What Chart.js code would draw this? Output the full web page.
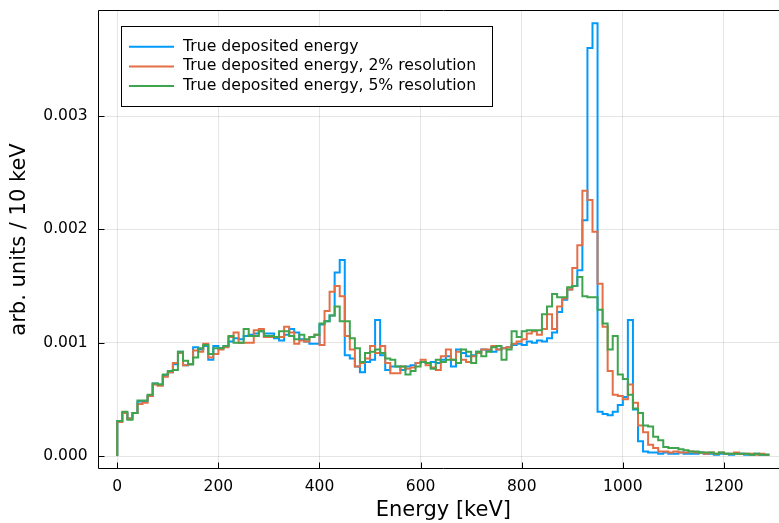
<!DOCTYPE html>
<html>
<head>
<meta charset="utf-8">
<script src="https://cdn.jsdelivr.net/npm/chart.js@4.4.0/dist/chart.umd.min.js"></script>
<style>
    html, body { margin: 0; padding: 0; overflow: hidden; background: #fff; }
    #wrap { width: 789px; height: 523px; }
</style>
</head>
<body>
<div id="wrap"><canvas id="chart" width="789" height="523"></canvas></div>
<script>
// Histogram bins: 10 keV wide, starting at 0 keV (129 bins, 0 - 1290 keV)
const binWidth = 10;

// True deposited energy
const trueEnergy = [
    0.00031, 0.00038, 0.00033, 0.00038, 0.00048, 0.00048, 0.00053, 0.00064, 0.00063, 0.00071,
    0.00074, 0.00081, 0.00092, 0.00080, 0.00081, 0.00096, 0.00094, 0.00097, 0.00085, 0.00097,
    0.00095, 0.00097, 0.00101, 0.00104, 0.00103, 0.00106, 0.00107, 0.00108, 0.00110, 0.00108,
    0.00108, 0.00104, 0.00102, 0.00107, 0.00112, 0.00109, 0.00103, 0.00101, 0.00099, 0.00099,
    0.00116, 0.00119, 0.00124, 0.00162, 0.00173, 0.00089, 0.00086, 0.00079, 0.00074, 0.00083,
    0.00085, 0.00120, 0.00089, 0.00076, 0.00079, 0.00079, 0.00076, 0.00079, 0.00080, 0.00082,
    0.00083, 0.00082, 0.00083, 0.00082, 0.00085, 0.00088, 0.00079, 0.00094, 0.00091, 0.00088,
    0.00089, 0.00092, 0.00094, 0.00093, 0.00092, 0.00094, 0.00095, 0.00096, 0.00098, 0.00099,
    0.00098, 0.00101, 0.00100, 0.00102, 0.00101, 0.00104, 0.00109, 0.00127, 0.00138, 0.00147,
    0.00150, 0.00164, 0.00208, 0.00360, 0.00382, 0.00039, 0.00037, 0.00036, 0.00039, 0.00045,
    0.00052, 0.00120, 0.00041, 0.00013, 0.00004, 0.00003, 0.00003, 0.00002, 0.00003, 0.00002,
    0.00002, 0.00003, 0.00002, 0.00002, 0.00002, 0.00003, 0.00002, 0.00002, 0.00001, 0.00002,
    0.00002, 0.00001, 0.00002, 0.00002, 0.00001, 0.00001, 0.00002, 0.00001, 0.00001
];

// Smeared with 2% resolution
const res2 = [
    0.00030, 0.00038, 0.00033, 0.00038, 0.00046, 0.00047, 0.00053, 0.00063, 0.00062, 0.00070,
    0.00074, 0.00082, 0.00091, 0.00080, 0.00081, 0.00093, 0.00092, 0.00099, 0.00087, 0.00090,
    0.00094, 0.00096, 0.00105, 0.00109, 0.00100, 0.00100, 0.00100, 0.00111, 0.00112, 0.00105,
    0.00105, 0.00105, 0.00105, 0.00114, 0.00109, 0.00099, 0.00102, 0.00101, 0.00105, 0.00107,
    0.00098, 0.00128, 0.00145, 0.00150, 0.00141, 0.00106, 0.00094, 0.00079, 0.00082, 0.00086,
    0.00097, 0.00091, 0.00097, 0.00082, 0.00073, 0.00073, 0.00079, 0.00077, 0.00078, 0.00082,
    0.00085, 0.00080, 0.00078, 0.00076, 0.00088, 0.00094, 0.00085, 0.00092, 0.00085, 0.00083,
    0.00088, 0.00091, 0.00094, 0.00094, 0.00097, 0.00094, 0.00095, 0.00096, 0.00099, 0.00101,
    0.00103, 0.00108, 0.00110, 0.00107, 0.00112, 0.00125, 0.00112, 0.00132, 0.00139, 0.00147,
    0.00166, 0.00186, 0.00234, 0.00226, 0.00198, 0.00152, 0.00114, 0.00075, 0.00054, 0.00053,
    0.00050, 0.00063, 0.00047, 0.00027, 0.00021, 0.00010, 0.00007, 0.00004, 0.00004, 0.00003,
    0.00004, 0.00003, 0.00003, 0.00004, 0.00003, 0.00003, 0.00002, 0.00003, 0.00002, 0.00003,
    0.00002, 0.00002, 0.00003, 0.00002, 0.00002, 0.00002, 0.00001, 0.00002, 0.00001
];

// Smeared with 5% resolution
const res5 = [
    0.00031, 0.00039, 0.00032, 0.00038, 0.00049, 0.00049, 0.00054, 0.00064, 0.00063, 0.00072,
    0.00075, 0.00076, 0.00092, 0.00084, 0.00081, 0.00087, 0.00095, 0.00098, 0.00090, 0.00095,
    0.00095, 0.00097, 0.00106, 0.00100, 0.00100, 0.00112, 0.00106, 0.00106, 0.00110, 0.00106,
    0.00106, 0.00105, 0.00110, 0.00110, 0.00106, 0.00103, 0.00107, 0.00103, 0.00105, 0.00107,
    0.00117, 0.00119, 0.00124, 0.00132, 0.00119, 0.00119, 0.00104, 0.00095, 0.00083, 0.00091,
    0.00092, 0.00094, 0.00091, 0.00086, 0.00085, 0.00079, 0.00079, 0.00072, 0.00075, 0.00079,
    0.00083, 0.00082, 0.00077, 0.00085, 0.00083, 0.00085, 0.00085, 0.00082, 0.00094, 0.00092,
    0.00082, 0.00092, 0.00088, 0.00092, 0.00096, 0.00097, 0.00085, 0.00094, 0.00110, 0.00105,
    0.00110, 0.00111, 0.00111, 0.00111, 0.00125, 0.00132, 0.00143, 0.00140, 0.00140, 0.00149,
    0.00150, 0.00158, 0.00141, 0.00140, 0.00140, 0.00129, 0.00117, 0.00094, 0.00106, 0.00072,
    0.00068, 0.00054, 0.00042, 0.00038, 0.00027, 0.00026, 0.00017, 0.00014, 0.00008, 0.00007,
    0.00007, 0.00006, 0.00005, 0.00004, 0.00004, 0.00003, 0.00003, 0.00003, 0.00002, 0.00003,
    0.00002, 0.00002, 0.00002, 0.00002, 0.00002, 0.00001, 0.00002, 0.00001, 0.00001
];

const seriesNames = [
    'True deposited energy',
    'True deposited energy, 2% resolution',
    'True deposited energy, 5% resolution'
];
const seriesColors = ['#009afa', '#e36f47', '#3ea44e'];

const xTicks = [0, 200, 400, 600, 800, 1000, 1200];
const yTicks = [0, 0.001, 0.002, 0.003];

const fontFamily = '"DejaVu Sans", sans-serif';

// Turn bin contents into an outline: vertical rise at 0, then one step per bin
function toSteps(values) {
    const pts = [{ x: 0, y: 0 }];
    values.forEach((v, i) => pts.push({ x: i * binWidth, y: v }));
    pts.push({ x: values.length * binWidth, y: values[values.length - 1] });
    return pts;
}

// Frame box and inward tick marks, like the GR backend
const framePlugin = {
    id: 'frame',
    afterDatasetsDraw(chart) {
        const { ctx, chartArea: a, scales } = chart;
        ctx.save();
        ctx.strokeStyle = '#000';
        ctx.lineWidth = 1;
        ctx.beginPath();
        const l = Math.round(a.left) + 0.5, t = Math.round(a.top) + 0.5;
        const r = Math.round(a.right) - 0.5, b = Math.round(a.bottom) - 0.5;
        ctx.moveTo(l, t); ctx.lineTo(r, t); ctx.lineTo(r, b); ctx.lineTo(l, b); ctx.closePath();
        xTicks.forEach(v => {
            const px = Math.round(scales.x.getPixelForValue(v)) + 0.5;
            ctx.moveTo(px, b); ctx.lineTo(px, b - 6);
        });
        yTicks.forEach(v => {
            const py = Math.round(scales.y.getPixelForValue(v)) + 0.5;
            ctx.moveTo(l, py); ctx.lineTo(l + 6, py);
        });
        ctx.stroke();
        ctx.restore();
    }
};

// Legend box in the upper left corner of the plot
const legendPlugin = {
    id: 'boxLegend',
    afterDraw(chart) {
        const { ctx } = chart;
        const x0 = 121, y0 = 26, w = 371, h = 80;
        ctx.save();
        ctx.fillStyle = '#fff';
        ctx.fillRect(x0, y0, w, h);
        ctx.strokeStyle = '#000';
        ctx.lineWidth = 1;
        ctx.strokeRect(x0 + 0.5, y0 + 0.5, w, h);
        ctx.font = '15.7px ' + fontFamily;
        ctx.textBaseline = 'middle';
        ctx.fillStyle = '#000';
        seriesNames.forEach((name, i) => {
            const rowY = 46.7 + i * 19.7;
            ctx.strokeStyle = seriesColors[i];
            ctx.lineWidth = 2;
            ctx.beginPath();
            ctx.moveTo(129, rowY);
            ctx.lineTo(174, rowY);
            ctx.stroke();
            ctx.fillText(name, 183, rowY);
        });
        ctx.restore();
    }
};

const ctx = document.getElementById('chart').getContext('2d');
new Chart(ctx, {
    type: 'line',
    data: {
        datasets: [trueEnergy, res2, res5].map((vals, i) => ({
            label: seriesNames[i],
            data: toSteps(vals),
            borderColor: seriesColors[i],
            borderWidth: 2,
            stepped: 'before',
            pointRadius: 0,
            fill: false,
            order: 2 - i
        }))
    },
    options: {
        responsive: false,
        animation: false,
        layout: { padding: { top: 10, right: 0, bottom: 0, left: 0 } },
        plugins: {
            legend: { display: false },
            tooltip: { enabled: false }
        },
        scales: {
            x: {
                type: 'linear',
                min: -38.7,
                max: 1328.7,
                afterBuildTicks: s => { s.ticks = xTicks.map(v => ({ value: v })); },
                afterFit: s => { s.height = 54; s.paddingLeft = 0; s.paddingRight = 0; },
                grid: { color: 'rgba(0,0,0,0.1)', drawTicks: false },
                border: { display: false },
                ticks: {
                    color: '#000',
                    padding: 9,
                    maxRotation: 0,
                    font: { family: fontFamily, size: 15.5 },
                    callback: v => String(v)
                },
                title: {
                    display: true,
                    text: 'Energy [keV]',
                    color: '#000',
                    font: { family: fontFamily, size: 21 },
                    padding: { top: 0, bottom: 0 }
                }
            },
            y: {
                type: 'linear',
                min: -0.0001147,
                max: 0.003936,
                afterBuildTicks: s => { s.ticks = yTicks.map(v => ({ value: v })); },
                afterFit: s => { s.width = 97.7; s.paddingTop = 0; s.paddingBottom = 0; },
                grid: { color: 'rgba(0,0,0,0.1)', drawTicks: false },
                border: { display: false },
                ticks: {
                    color: '#000',
                    padding: 10,
                    font: { family: fontFamily, size: 15.5 },
                    callback: v => v.toFixed(3)
                },
                title: {
                    display: true,
                    text: 'arb. units / 10 keV',
                    color: '#000',
                    font: { family: fontFamily, size: 21 },
                    padding: { top: 7, bottom: 0 }
                }
            }
        }
    },
    plugins: [framePlugin, legendPlugin]
});
</script>
</body>
</html>
